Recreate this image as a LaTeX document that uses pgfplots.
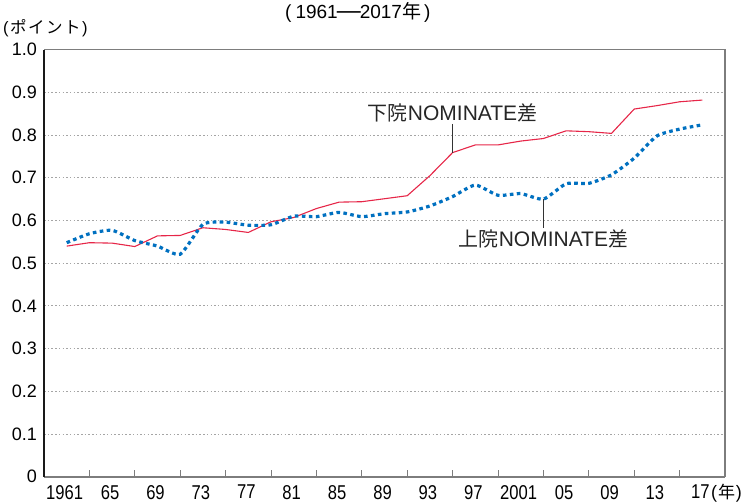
\documentclass[border=0pt]{standalone}
\usepackage{pgfplots}
\pgfplotsset{compat=1.18}
\usepackage{fontspec}
\setmainfont{Liberation Sans}
\newfontfamily\cond[FakeStretch=0.83]{Liberation Sans}
\newfontfamily\jp{Noto Sans CJK JP}
\definecolor{redline}{RGB}{230,38,72}
\definecolor{blueline}{RGB}{0,112,192}
\definecolor{gridgray}{RGB}{165,165,165}
\definecolor{axgray}{RGB}{125,125,125}
\begin{document}
\begin{tikzpicture}[x=1pt,y=1pt]
\useasboundingbox (0,0) rectangle (747,503);
\begin{axis}[
  at={(44pt,26.3pt)}, anchor=south west,
  scale only axis, width=681pt, height=427pt,
  xmin=1959, xmax=2019, ymin=0, ymax=1,
  clip=false,
  axis line style={draw=none},
  xtick={1961,1965,...,2017},
  xticklabels={1961,65,69,73,77,81,85,89,93,97,2001,05,09,13,17},
  minor xtick={1963,1967,...,2015},
  xtick pos=lower,
  tick align=inside,
  major tick length=0pt,
  minor tick length=6.7pt,
  minor tick style={axgray, line width=0.8pt},
  xticklabel style={font=\cond\fontsize{20}{20}\selectfont, inner sep=0pt, anchor=north, yshift=-8.3pt, xshift=-2pt},
  ytick={0,0.1,...,1.0},
  yticklabels={0,0.1,0.2,0.3,0.4,0.5,0.6,0.7,0.8,0.9,1.0},
  ytick pos=left,
  yticklabel style={font=\fontsize{18}{18}\selectfont, inner sep=0pt, anchor=east, xshift=-7pt},
  ymajorgrids,
  grid style={gridgray, line width=0.9pt, dash pattern=on 1.5pt off 2.2pt},
]
\draw[line width=1.3pt, axgray] (rel axis cs:0,1) -- (rel axis cs:1,1) -- (rel axis cs:1,0);
\draw[line width=2pt, axgray] (rel axis cs:0,0) -- (rel axis cs:1,0);
\draw[line width=1.5pt, black!90] (rel axis cs:0,0) -- (rel axis cs:0,1);

\addplot[redline, line width=1.1pt, line join=round] coordinates {
(1961,0.540) (1963,0.548) (1965,0.547) (1967,0.539) (1969,0.564) (1971,0.565)
(1973,0.583) (1975,0.579) (1977,0.572) (1979,0.597) (1981,0.607) (1983,0.628)
(1985,0.643) (1987,0.644) (1989,0.651) (1991,0.658) (1993,0.705) (1995,0.759)
(1997,0.777) (1999,0.777) (2001,0.786) (2003,0.792) (2005,0.810) (2007,0.808)
(2009,0.804) (2011,0.861) (2013,0.869) (2015,0.878) (2017,0.882)
};
\addplot[blueline, line width=3.2pt, dash pattern=on 3.6pt off 3.4pt, smooth, tension=0.35] coordinates {
(1961,0.548) (1963,0.569) (1965,0.577) (1967,0.553) (1969,0.540) (1971,0.521)
(1973,0.591) (1975,0.596) (1977,0.589) (1979,0.590) (1981,0.610) (1983,0.609)
(1985,0.619) (1987,0.609) (1989,0.616) (1991,0.620) (1993,0.634) (1995,0.656)
(1997,0.683) (1999,0.659) (2001,0.663) (2003,0.650) (2005,0.686) (2007,0.687)
(2009,0.707) (2011,0.746) (2013,0.798) (2015,0.814) (2017,0.824)
};

\draw[black!80, line width=0.9pt] (axis cs:1995,0.826) -- (axis cs:1995,0.759);
\node[font=\fontsize{21}{21}\selectfont, text=black!85, inner sep=0pt] at (axis cs:1995,0.853) {{\jp\fontsize{20}{20}\selectfont 下院}NOMINATE{\jp\fontsize{20}{20}\selectfont 差}};
\draw[black!80, line width=0.9pt] (axis cs:2003,0.650) -- (axis cs:2003,0.582);
\node[font=\fontsize{21}{21}\selectfont, text=black!85, inner sep=0pt] at (axis cs:2003,0.557) {{\jp\fontsize{20}{20}\selectfont 上院}NOMINATE{\jp\fontsize{20}{20}\selectfont 差}};
\end{axis}
% title
\node[inner sep=0pt, anchor=base west, font=\fontsize{19}{19}\selectfont] at (285,484.8)
  {(\kern4pt 1961\kern-1pt{\fontsize{24}{24}\selectfont —}\kern-1pt 2017{\jp 年}\kern3pt)};
% unit label of the y axis
\node[inner sep=0pt, anchor=base west, font=\fontsize{16.5}{16.5}\selectfont] at (3,469.5)
  {(\kern1.5pt{\jp ポ\kern1.5ptイ\kern1.5ptン\kern1.5ptト}\kern1.5pt)};
% unit label of the x axis
\node[inner sep=0pt, anchor=base west, font=\fontsize{18}{18}\selectfont] at (711,4.5)
  {(\kern0.8pt{\jp\fontsize{17}{17}\selectfont 年}\kern0.8pt)};
\end{tikzpicture}
\end{document}
